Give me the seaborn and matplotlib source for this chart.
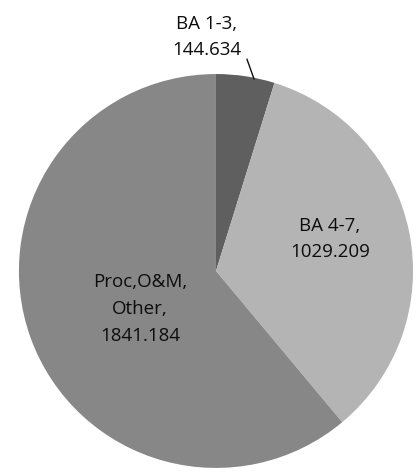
import matplotlib
matplotlib.use("Agg")
import matplotlib.pyplot as plt
import seaborn as sns

# slice data, clockwise from 12 o'clock
categories = ["BA 1-3", "BA 4-7", "Proc,O&M,\nOther"]
values = [144.634, 1029.209, 1841.184]
slice_colors = ["#5f5f5f", "#b4b4b4", "#878787"]

sns.set_theme(style="white")
plt.rcParams["font.family"] = ["Open Sans", "DejaVu Sans"]

fig = plt.figure(figsize=(4.16, 4.77), dpi=100)
ax = fig.add_axes([0, 0, 1, 1])

wedges, _ = ax.pie(values, colors=slice_colors, startangle=90, counterclock=False,
                   radius=1.0, wedgeprops=dict(linewidth=0))

# pie centre sits at about (216, 272) px, radius ~197 px
ax.set_xlim(-1.096, 1.015)
ax.set_ylim(-1.041, 1.381)
ax.set_aspect("auto")
ax.axis("off")

labels = [f"{c},\n{v:.3f}" for c, v in zip(categories, values)]
label_pos = [(-0.048, 1.193), (0.579, 0.168), (-0.386, -0.188)]
for txt, (x, y) in zip(labels, label_pos):
    ax.text(x, y, txt, ha="center", va="center", fontsize=13.5,
            color="#0d0d0d", linespacing=1.62)

# leader line for the small slice
ax.plot([0.157, 0.193], [1.076, 0.975], color="#111111", lw=1.0)

fig.savefig("out.png", dpi=100, facecolor="white")
